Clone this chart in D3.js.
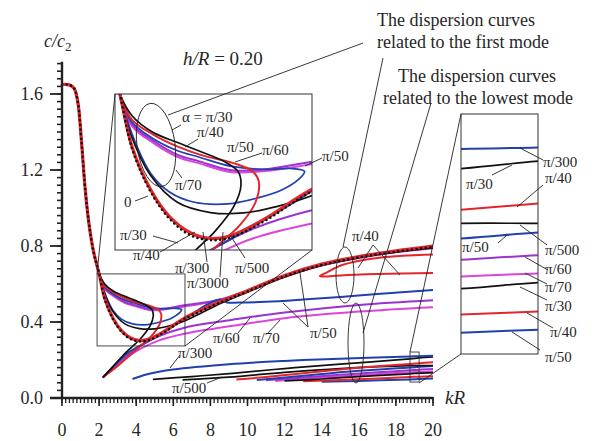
<!DOCTYPE html>
<html>
<head>
<meta charset="utf-8">
<script src="https://cdn.jsdelivr.net/npm/d3@7/dist/d3.min.js"></script>
<style>
  body { margin: 0; background: #fff; }
</style>
</head>
<body>
<div id="chart"></div>
<script>
// ---- data (kR, c/c2) ----
const xTicks = [0, 2, 4, 6, 8, 10, 12, 14, 16, 18, 20];
const yTicks = [0.0, 0.4, 0.8, 1.2, 1.6];

// common steep part of every first-mode curve
const descent = [[0,1.65],[0.4,1.648],[0.65,1.63],[0.85,1.56],[1.05,1.35],[1.25,1.1],[1.45,0.92],[1.7,0.77],[2.0,0.655]];

// first mode, alpha = 0 (dotted) and pi/3000 (red)
const alpha0 = [[2.3,0.52],[2.75,0.415],[3.2,0.35],[3.7,0.31],[4.2,0.298],[4.7,0.305],[5.5,0.345],[6.6,0.415],[8.6,0.505],[10,0.56],[12,0.64],[14,0.7],[16,0.74],[18,0.77],[20,0.795]];
const pi3000 = [[2.3,0.525],[2.75,0.42],[3.2,0.355],[3.7,0.316],[4.2,0.302],[4.7,0.31],[5.5,0.35],[6.6,0.42],[8.6,0.51],[10,0.565],[12,0.645],[14,0.705],[16,0.745],[18,0.775],[20,0.8]];
// pi/30 (black)
const pi30Upper = [[2.3,0.6],[2.8,0.56],[3.4,0.535],[3.9,0.515],[4.5,0.49],[4.85,0.465],[4.92,0.43],[4.75,0.38],[4.3,0.32],[3.95,0.285],[3.3,0.225],[2.7,0.16],[2.2,0.108]];
const pi30Inner = [[2.25,0.56],[2.74,0.456],[3.39,0.39],[4.19,0.365],[4.98,0.364],[5.8,0.38],[6.6,0.405],[8.6,0.5],[10,0.557],[12,0.637],[14,0.698],[16,0.738],[18,0.768],[20,0.79]];
// pi/40 (red)
const pi40Upper = [[2.3,0.59],[2.8,0.555],[3.4,0.525],[3.95,0.505],[4.74,0.485],[5.2,0.465],[5.35,0.44],[5.27,0.39],[4.9,0.335],[4.3,0.28],[3.6,0.22],[2.9,0.16],[2.2,0.108]];
const pi40Fold = [[20,0.658],[17,0.652],[15,0.645],[14.1,0.639],[13.9,0.642],[14.2,0.657],[15.1,0.7],[17,0.737],[20,0.755]];
// pi/50 (blue)
const pi50Loop = [[2.3,0.585],[2.8,0.545],[3.4,0.515],[3.9,0.5],[4.7,0.477],[5.5,0.47],[6.1,0.472],[6.45,0.465],[6.3,0.445],[5.9,0.42],[5.3,0.4],[4.6,0.386],[3.8,0.39],[3.2,0.415],[2.75,0.46],[2.4,0.53],[2.15,0.6]];
const pi50Rise = [[2.2,0.108],[2.8,0.17],[3.5,0.235],[4.4,0.285],[5.2,0.33],[6.2,0.39],[7.2,0.455],[8.0,0.5],[8.5,0.518],[8.75,0.51],[8.9,0.503],[9.5,0.502],[11,0.506],[13,0.518],[15,0.532],[17,0.548],[20,0.568]];
// pi/60 (purple) and pi/70 (magenta)
const pi60Upper = [[2.3,0.58],[2.8,0.54],[3.4,0.505],[3.9,0.49],[4.7,0.468],[5.5,0.47],[6.6,0.488],[7.5,0.5],[8.6,0.52],[10,0.565],[12,0.64],[14,0.7],[16,0.74],[18,0.77],[20,0.792]];
const pi70Upper = [[2.3,0.575],[2.8,0.535],[3.4,0.5],[3.9,0.485],[4.7,0.463],[5.5,0.466],[6.6,0.482],[7.5,0.496],[8.6,0.518],[10,0.562],[12,0.637],[14,0.697],[16,0.737],[18,0.767],[20,0.788]];
const pi60Rise = [[2.2,0.108],[2.8,0.165],[3.5,0.225],[4.3,0.28],[5.2,0.325],[6.6,0.37],[8,0.395],[9.2,0.412],[12,0.45],[16,0.49],[20,0.515]];
const pi70Rise = [[2.2,0.108],[2.8,0.16],[3.5,0.215],[4.3,0.262],[5.2,0.302],[6.6,0.338],[8,0.362],[9.2,0.38],[12,0.42],[16,0.455],[20,0.478]];

// lowest mode
const low300 = [[3.8,0.1],[4.6,0.125],[6,0.15],[9,0.178],[12,0.195],[15,0.207],[18.76,0.219],[19.25,0.22],[20,0.223]];
const low30a = [[4.9,0.098],[7,0.113],[9.2,0.13],[12,0.155],[15,0.178],[18.76,0.206],[19.25,0.211],[20,0.216]];
const low40a = [[9.4,0.098],[11,0.11],[13,0.13],[15,0.15],[17,0.167],[18.76,0.179],[19.25,0.183],[20,0.188]];
const low500 = [[6.5,0.095],[9,0.11],[12,0.135],[15,0.155],[18.76,0.17],[19.25,0.17],[20,0.171]];
const low50a = [[10.5,0.095],[12,0.108],[14,0.126],[16,0.143],[18.76,0.16],[19.25,0.164],[20,0.168]];
const low60 = [[11,0.093],[13,0.108],[15,0.122],[17,0.135],[18.76,0.146],[19.25,0.149],[20,0.152]];
const low70 = [[11.5,0.09],[13.5,0.105],[16,0.12],[18.76,0.135],[19.25,0.137],[20,0.14]];
const low30b = [[12,0.09],[14,0.1],[16,0.113],[18.76,0.127],[19.25,0.131],[20,0.134]];
const low40b = [[13,0.088],[15,0.095],[17,0.103],[18.76,0.11],[19.25,0.112],[20,0.115]];
const low50b = [[14,0.086],[16,0.09],[18.76,0.098],[19.25,0.1],[20,0.102]];

// zoomed windows
const insetDomainX = [1.89, 6.63], insetDomainY = [0.274, 0.653];
const rightDomainX = [18.76, 19.25], rightDomainY = [0.084, 0.242];

// ---- styling ----
const C = { red: "#e3262c", blue: "#2140b0", purple: "#9a34d0", magenta: "#dc44dc", black: "#111" };
const SERIF = "'Liberation Serif', 'Times New Roman', Times, 'DejaVu Serif', serif";

const curves = [
  { pts: pi70Rise, color: C.magenta, w: 2 },
  { pts: pi60Rise, color: C.purple, w: 2 },
  { pts: descent.concat(pi70Upper), color: C.magenta, w: 2 },
  { pts: descent.concat(pi60Upper), color: C.purple, w: 2 },
  { pts: pi50Rise, color: C.blue, w: 2 },
  { pts: descent.concat(pi50Loop), color: C.blue, w: 1.7 },
  { pts: descent.concat(pi40Upper), color: C.red, w: 2 },
  { pts: pi40Fold, color: C.red, w: 2 },
  { pts: descent.concat(pi30Upper), color: C.black, w: 1.7 },
  { pts: descent.concat(pi30Inner), color: C.black, w: 1.7 },
  { pts: descent.concat(pi3000), color: C.red, w: 3.2 },
  { pts: descent.concat(alpha0), color: C.black, w: 2.6, dots: true },
  { pts: low70, color: C.magenta, w: 2 },
  { pts: low60, color: C.purple, w: 2 },
  { pts: low50b, color: C.blue, w: 2 },
  { pts: low40b, color: C.red, w: 2 },
  { pts: low30b, color: C.black, w: 1.7 },
  { pts: low50a, color: C.blue, w: 2 },
  { pts: low500, color: C.black, w: 1.7 },
  { pts: low40a, color: C.red, w: 2 },
  { pts: low30a, color: C.black, w: 1.7 },
  { pts: low300, color: C.blue, w: 2 }
];

const width = 612, height = 441;
const svg = d3.select("#chart").append("svg")
  .attr("width", width).attr("height", height)
  .attr("font-family", SERIF).style("font-family", SERIF);

const x = d3.scaleLinear().domain([0, 20]).range([62, 433]);
const y = d3.scaleLinear().domain([0, 1]).range([398, 208]);

function drawCurves(g, xs, ys) {
  const line = d3.line().x(d => xs(d[0])).y(d => ys(d[1])).curve(d3.curveCatmullRom.alpha(0.5));
  g.selectAll("path.c").data(curves).join("path")
    .attr("class", "c")
    .attr("d", d => line(d.pts))
    .attr("fill", "none")
    .attr("stroke", d => d.color)
    .attr("stroke-width", d => d.w)
    .attr("stroke-linecap", d => d.dots ? "round" : "butt")
    .attr("stroke-dasharray", d => d.dots ? "0,4.6" : null);
}

function label(sel, size) {
  return sel.attr("font-family", SERIF).attr("font-size", size).attr("fill", "#262626");
}

// ---- main plot ----
drawCurves(svg.append("g"), x, y);

// axes
const yMinor = d3.range(0, 1.77, 0.04);
svg.append("g").selectAll("line").data(yMinor).join("line")
  .attr("x1", 57).attr("x2", 63).attr("y1", d => y(d)).attr("y2", d => y(d))
  .attr("stroke", "#222").attr("stroke-width", 1.6);
svg.append("g").selectAll("line").data(yTicks).join("line")
  .attr("x1", 50).attr("x2", 63).attr("y1", d => y(d)).attr("y2", d => y(d))
  .attr("stroke", "#222").attr("stroke-width", 1.8);
svg.append("line").attr("x1", x(0)).attr("x2", x(0)).attr("y1", y(0) + 1).attr("y2", y(1.77))
  .attr("stroke", "#222").attr("stroke-width", 2.4);
label(svg.append("g").selectAll("text").data(yTicks).join("text"), 18)
  .attr("x", 43).attr("y", d => y(d) + 6).attr("text-anchor", "end")
  .text(d => d.toFixed(1));

const xMinor = d3.range(0, 20.01, 0.2);
svg.append("g").selectAll("line").data(xMinor).join("line")
  .attr("x1", d => x(d)).attr("x2", d => x(d)).attr("y1", 397).attr("y2", 403)
  .attr("stroke", "#222").attr("stroke-width", 1.3);
svg.append("g").selectAll("line").data(xTicks).join("line")
  .attr("x1", d => x(d)).attr("x2", d => x(d)).attr("y1", 397).attr("y2", 406)
  .attr("stroke", "#222").attr("stroke-width", 1.6);
svg.append("line").attr("x1", 50).attr("x2", x(20)).attr("y1", y(0)).attr("y2", y(0))
  .attr("stroke", "#222").attr("stroke-width", 2.6);
label(svg.append("g").selectAll("text").data(xTicks).join("text"), 18)
  .attr("x", d => x(d)).attr("y", 436).attr("text-anchor", "middle")
  .text(d => d);

label(svg.append("text"), 19).attr("x", 445).attr("y", 404)
  .attr("font-style", "italic").text("kR");
const yl = label(svg.append("text"), 18).attr("x", 44).attr("y", 47);
yl.append("tspan").attr("font-style", "italic").text("c/c");
yl.append("tspan").attr("font-size", 13).attr("dy", 4).text("2");
const hr = label(svg.append("text"), 19).attr("x", 183).attr("y", 65);
hr.append("tspan").attr("font-style", "italic").text("h/R");
hr.append("tspan").text(" = 0.20");

// ---- zoom windows ----
function zoomWindow(id, dx, dy, px, py) {
  const xs = d3.scaleLinear().domain(dx).range(px);
  const ys = d3.scaleLinear().domain(dy).range(py);
  // marker box in the main plot
  svg.append("rect").attr("x", x(dx[0])).attr("y", y(dy[1]))
    .attr("width", x(dx[1]) - x(dx[0])).attr("height", y(dy[0]) - y(dy[1]))
    .attr("fill", "none").attr("stroke", "#333").attr("stroke-width", 0.9);
  svg.append("clipPath").attr("id", id).append("rect")
    .attr("x", px[0]).attr("y", py[1]).attr("width", px[1] - px[0]).attr("height", py[0] - py[1]);
  svg.append("rect").attr("x", px[0]).attr("y", py[1]).attr("width", px[1] - px[0]).attr("height", py[0] - py[1])
    .attr("fill", "#fff");
  drawCurves(svg.append("g").attr("clip-path", `url(#${id})`), xs, ys);
  svg.append("rect").attr("x", px[0]).attr("y", py[1]).attr("width", px[1] - px[0]).attr("height", py[0] - py[1])
    .attr("fill", "none").attr("stroke", "#333").attr("stroke-width", 1);
}
zoomWindow("clipA", insetDomainX, insetDomainY, [115, 312], [250, 94]);
zoomWindow("clipB", rightDomainX, rightDomainY, [461, 538], [354, 114]);

// ---- annotations (pixel layout) ----
const leaders = [
  [115,94,97,274],[312,250,185,346],[461,114,410,352],[461,354,419,383],
  [363,43,168,115],[383,58,343,247],[431,103,363,333],
  [373,245,358,268],[373,245,400,275],[308,327,300,273],[308,327,283,303],
  [238,333,250,318],[268,333,280,320],[180,355,170,368],[207,383,222,377],
  [181,125,172,130],[198,139,185,147],[262,153,235,162],[182,178,176,170],
  [135,201,148,196],[153,236,178,243],
  [160,252,195,232],[207,262,203,232],[220,277,223,232],[245,258,230,235],[322,158,305,166],
  [520,148,543,160],[492,175,512,165],[543,185,517,207],[520,225,547,245],[498,243,507,235],
  [525,257,548,270],[525,273,547,284],[520,287,547,300],[527,313,553,328],[512,332,540,350]
];
svg.append("g").selectAll("line").data(leaders).join("line")
  .attr("x1", d => d[0]).attr("y1", d => d[1]).attr("x2", d => d[2]).attr("y2", d => d[3])
  .attr("stroke", "#222").attr("stroke-width", 0.9);

const ellipses = [[156,145,19,42,-8],[345,275,9,28,0],[356,343,8,40,0]];
svg.append("g").selectAll("ellipse").data(ellipses).join("ellipse")
  .attr("transform", d => `translate(${d[0]},${d[1]}) rotate(${d[4]})`)
  .attr("rx", d => d[2]).attr("ry", d => d[3])
  .attr("fill", "none").attr("stroke", "#222").attr("stroke-width", 0.9);

const notes = [
  ["α = π/30",182,122],["π/40",197,137],["π/50",227,152],["π/60",262,155],["π/70",175,190],
  ["0",124,207],["π/30",120,240],
  ["π/40",133,260],["π/300",175,273],["π/3000",187,288],["π/500",235,273],["π/50",322,161],
  ["π/60",213,343],["π/70",253,343],["π/50",310,338],["π/40",352,241],["π/300",178,358],["π/500",172,393],
  ["π/300",543,167],["π/30",466,189],["π/40",545,183],["π/50",462,252],["π/500",545,255],
  ["π/60",545,274],["π/70",545,292],["π/30",545,311],["π/40",550,337],["π/50",545,362]
];
label(svg.append("g").selectAll("text").data(notes).join("text"), 15)
  .attr("x", d => d[1]).attr("y", d => d[2]).text(d => d[0]);

const heads = [
  ["The dispersion curves", 377, 26], ["related to the first mode", 377, 48],
  ["The dispersion curves", 398, 82], ["related to the lowest mode", 383, 104]
];
label(svg.append("g").selectAll("text").data(heads).join("text"), 18)
  .attr("x", d => d[1]).attr("y", d => d[2]).text(d => d[0]);
</script>
</body>
</html>
